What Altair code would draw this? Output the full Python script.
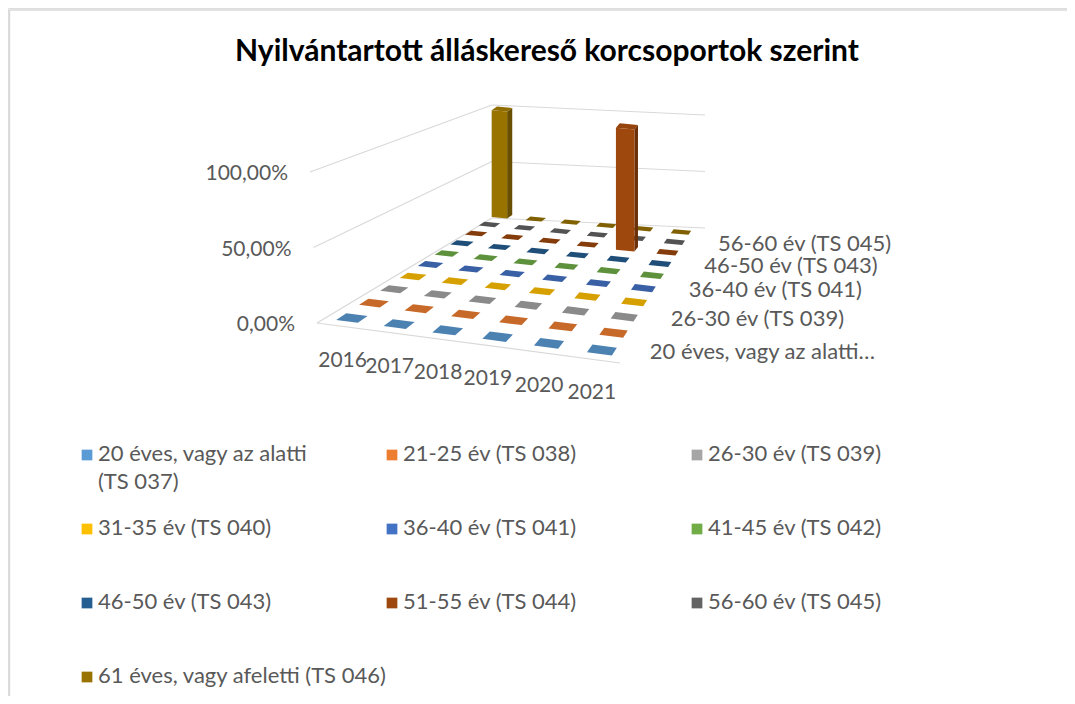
import altair as alt
import pandas as pd

# ---------------- data ----------------
title_text = "Nyilvántartott álláskereső korcsoportok szerint"
years = ["2016", "2017", "2018", "2019", "2020", "2021"]
series = [
    "20 éves, vagy az alatti (TS 037)",
    "21-25 év (TS 038)",
    "26-30 év (TS 039)",
    "31-35 év (TS 040)",
    "36-40 év (TS 041)",
    "41-45 év (TS 042)",
    "46-50 év (TS 043)",
    "51-55 év (TS 044)",
    "56-60 év (TS 045)",
    "61 éves, vagy afeletti (TS 046)",
]
ts037 = [0, 0, 0, 0, 0, 0]
ts038 = [0, 0, 0, 0, 0, 0]
ts039 = [0, 0, 0, 0, 0, 0]
ts040 = [0, 0, 0, 0, 0, 0]
ts041 = [0, 0, 0, 0, 0, 0]
ts042 = [0, 0, 0, 0, 0, 0]
ts043 = [0, 0, 0, 0, 0, 0]
ts044 = [0, 0, 0, 0, 1.00, 0]
ts045 = [0, 0, 0, 0, 0, 0]
ts046 = [0.93, 0, 0, 0, 0, 0]
y_ticks = [0, 0.5, 1.0]

# ---------------- style ----------------
colors = ["#5B9BD5", "#ED7D31", "#A5A5A5", "#FFC000", "#4472C4",
          "#70AD47", "#255E91", "#9E480E", "#636363", "#997300"]


def shade(c, f):
    return "#%02x%02x%02x" % tuple(min(255, int(int(c[i:i + 2], 16) * f)) for i in (1, 3, 5))


tile_colors = [shade(c, 0.84) for c in colors]
side_colors = [shade(c, 0.68) for c in colors]
top_colors = [shade(c, 0.95) for c in colors]

FONT = "Lato"
GRAY = "#595959"
GRID = "#d9d9d9"
W, H = 1059, 688
OX, OY = 8, 8

values = [ts037, ts038, ts039, ts040, ts041, ts042, ts043, ts044, ts045, ts046]
rows = []
for si in range(len(series) - 1, -1, -1):
    for yi, yr in enumerate(years):
        rows.append({"series": series[si], "si": si, "year": yr, "yi": yi, "value": values[si][yi]})
df = pd.DataFrame(rows)

# ---------------- 3D projection (expressions) ----------------
T00, T10, T01, T11 = (352, 318), (602, 350), (502, 216), (681, 232)
QU, RV = 1.073, 0.725
KZ = (145, 158, 115, 115)  # px per 100 %
DU, DV = 0.046, 0.024
FL, FR, BL, BR = (317, 323), (620, 363), (492, 218), (705, 228)
K_FL, K_B, LEAN = 151, 113, 7


def s_(u):
    return f"(({u})/(({u})+{QU}*(1-({u}))))"


def t_(v):
    return f"(({v})/(({v})+{RV}*(1-({v}))))"


def bil(c00, c10, c01, c11, u, v):
    s, t = s_(u), t_(v)
    return f"((1-{t})*({c00}+{s}*({c10 - c00}))+{t}*({c01}+{s}*({c11 - c01})))"


def PX(u, v):
    return bil(T00[0], T10[0], T01[0], T11[0], u, v)


def PY(u, v):
    return bil(T00[1], T10[1], T01[1], T11[1], u, v)


U, V = "datum.u", "datum.v"
corners = {
    "a": (f"{U}-{DU}", f"{V}-{DV}"),
    "b": (f"{U}+{DU}", f"{V}-{DV}"),
    "c": (f"{U}+{DU}", f"{V}+{DV}"),
    "d": (f"{U}-{DU}", f"{V}+{DV}"),
}
calc = {"cx": PX(U, V), "cy": PY(U, V), "k": bil(*KZ, U, V)}
for n, (uu, vv) in corners.items():
    calc[n + "x"] = PX(uu, vv)
    calc[n + "y"] = PY(uu, vv)


def pt(n, lift=False):
    dy = "-datum.h" if lift else ""
    return (f"round((datum.{n}x-datum.cx)*100)/100+','+"
            f"round((datum.{n}y{dy}-datum.cy)*100)/100")


def poly(pts):
    s = "'M'+" + pt(*pts[0])
    for p in pts[1:]:
        s += "+'L'+" + pt(*p)
    return s + "+'Z'"


path_tile = poly([("a",), ("b",), ("c",), ("d",)])
path_front = poly([("a",), ("b",), ("b", True), ("a", True)])
path_side = poly([("b",), ("c",), ("c", True), ("b", True)])
path_top = poly([("a", True), ("b", True), ("c", True), ("d", True)])

xs = alt.Scale(domain=[OX, OX + W], nice=False, zero=False)
ys = alt.Scale(domain=[OY, OY + H], nice=False, zero=False, reverse=True)

base = (alt.Chart(df)
        .transform_calculate(u="datum.yi/5", v="datum.si/9")
        .transform_calculate(**calc)
        .transform_calculate(h="datum.k*datum.value"))


def sym_layer(flt, path, cols):
    return (base.transform_filter(flt)
            .transform_calculate(path=path)
            .mark_point(filled=True, opacity=1, strokeWidth=0)
            .encode(x=alt.X("cx:Q", scale=xs, axis=None),
                    y=alt.Y("cy:Q", scale=ys, axis=None),
                    shape=alt.Shape("path:N", scale=None),
                    size=alt.value(4),
                    color=alt.Color("series:N", scale=alt.Scale(domain=series, range=cols), legend=None)))


tiles = sym_layer("datum.value == 0", path_tile, tile_colors)
bar_side = sym_layer("datum.value > 0", path_side, side_colors)
bar_front = sym_layer("datum.value > 0", path_front, colors)
bar_top = sym_layer("datum.value > 0", path_top, top_colors)

# walls / grid
lv = alt.Chart(pd.DataFrame({"z": y_ticks}))
left_wall = (lv.transform_calculate(x1=f"{FL[0]}-{LEAN}*datum.z", y1=f"{FL[1]}-{K_FL}*datum.z",
                                    x2=f"{BL[0]}", y2=f"{BL[1]}-{K_B}*datum.z")
             .mark_rule(color=GRID, strokeWidth=1.2)
             .encode(x=alt.X("x1:Q", scale=xs, axis=None), y=alt.Y("y1:Q", scale=ys, axis=None),
                     x2="x2:Q", y2="y2:Q"))
back_wall = (lv.transform_calculate(x1=f"{BL[0]}", y1=f"{BL[1]}-{K_B}*datum.z",
                                    x2=f"{BR[0]}", y2=f"{BR[1]}-{K_B}*datum.z")
             .mark_rule(color=GRID, strokeWidth=1.2)
             .encode(x=alt.X("x1:Q", scale=xs, axis=None), y=alt.Y("y1:Q", scale=ys, axis=None),
                     x2="x2:Q", y2="y2:Q"))
floor_front = (lv.transform_filter("datum.z == 0")
               .transform_calculate(x1=f"{FL[0]}", y1=f"{FL[1]}", x2=f"{FR[0]}", y2=f"{FR[1]}")
               .mark_rule(color=GRID, strokeWidth=1.2)
               .encode(x=alt.X("x1:Q", scale=xs, axis=None), y=alt.Y("y1:Q", scale=ys, axis=None),
                       x2="x2:Q", y2="y2:Q"))

# axis labels
z_labels = (lv.transform_calculate(lx=f"{FL[0]}-22-{LEAN}*datum.z", ly=f"{FL[1]}+2-{K_FL}*datum.z",
                                   txt="replace(format(datum.z, '.2%'), '.', ',')")
            .mark_text(font=FONT, fontSize=21, color=GRAY, align="right", baseline="middle")
            .encode(x=alt.X("lx:Q", scale=xs, axis=None), y=alt.Y("ly:Q", scale=ys, axis=None), text="txt:N"))

year_labels = (base.transform_filter("datum.si == 0")
               .transform_calculate(lx="datum.cx-25", ly="datum.cy+45")
               .mark_text(font=FONT, fontSize=21, color=GRAY, align="center", baseline="middle")
               .encode(x=alt.X("lx:Q", scale=xs, axis=None), y=alt.Y("ly:Q", scale=ys, axis=None), text="year:N"))

depth_labels = (base.transform_filter("datum.yi == 5 && datum.si % 2 == 0")
                .transform_calculate(lx="datum.cx+33", ly="datum.cy+4",
                                     txt="length(datum.series) > 25 ? split(datum.series, ' (')[0] + '…' : datum.series")
                .mark_text(font=FONT, fontSize=22, color=GRAY, align="left", baseline="middle")
                .encode(x=alt.X("lx:Q", scale=xs, axis=None), y=alt.Y("ly:Q", scale=ys, axis=None), text="txt:N"))

# legend
leg_df = pd.DataFrame({"series": series, "i": list(range(len(series)))})
leg = (alt.Chart(leg_df)
       .transform_calculate(col="datum.i % 3", row="floor(datum.i / 3)")
       .transform_calculate(sx="87 + 305*datum.col", sy="455 + 74*datum.row"))
leg_sym = (leg.mark_square(size=115, opacity=1)
           .encode(x=alt.X("sx:Q", scale=xs, axis=None), y=alt.Y("sy:Q", scale=ys, axis=None),
                   color=alt.Color("series:N", scale=alt.Scale(domain=series, range=colors), legend=None)))
leg_txt = (leg.transform_calculate(tx="datum.sx + 11", ty="datum.sy - 11",
                                   txt="datum.i == 0 ? replace(datum.series, ' (', '\\n(') : datum.series")
           .mark_text(font=FONT, fontSize=22, color=GRAY, align="left", baseline="top",
                      lineBreak="\n", lineHeight=28)
           .encode(x=alt.X("tx:Q", scale=xs, axis=None), y=alt.Y("ty:Q", scale=ys, axis=None), text="txt:N"))

# title + frame
one = alt.Chart(pd.DataFrame({"t": [title_text]}))
title = one.mark_text(font=FONT, fontSize=30, fontWeight="bold", color="#000000",
                      align="center", baseline="middle").encode(
    x=alt.value(547 - OX), y=alt.value(52 - OY), text="t:N")
frame_top = one.mark_rule(color=GRID, strokeWidth=1.5).encode(
    x=alt.value(1.5), x2=alt.value(W), y=alt.value(2))
frame_left = one.mark_rule(color=GRID, strokeWidth=1.5).encode(
    x=alt.value(1.5), y=alt.value(2), y2=alt.value(H))

chart = (alt.layer(frame_top, frame_left, left_wall, back_wall, floor_front,
                   tiles, bar_side, bar_front, bar_top,
                   z_labels, year_labels, depth_labels, leg_sym, leg_txt, title)
         .resolve_scale(color="independent")
         .properties(width=W, height=H, padding=0,
                     autosize=alt.AutoSizeParams(type="none"))
         .configure_view(stroke=None)
         .configure(background="white"))

chart.save("out.html", embed_options={"renderer": "svg", "actions": False})
